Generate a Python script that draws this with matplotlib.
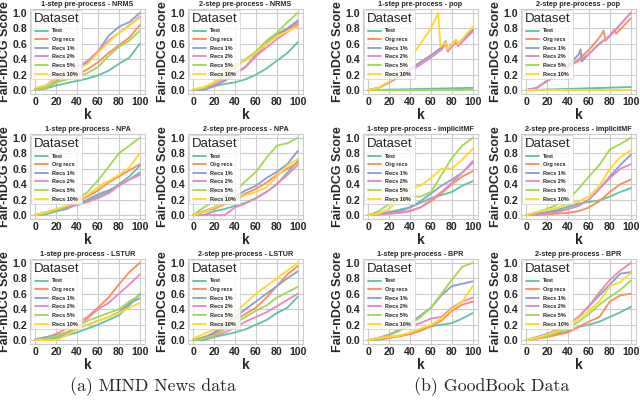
import matplotlib
matplotlib.use('Agg')
import matplotlib.pyplot as plt
import seaborn as sns

sns.set_style('whitegrid')
plt.rcParams['font.family'] = ['Liberation Sans', 'DejaVu Sans']

series = ['Test', 'Org recs', 'Recs 1%', 'Recs 2%', 'Recs 5%', 'Recs 10%']
colors = sns.color_palette('Set2', 6)
k_pts = [0, 10, 20, 30, 40, 50, 60, 70, 80, 90, 100]

# (a) MIND News data -- values read at k = 0, 10, ..., 100
nrms_1 = [[0, 0.02, 0.06, 0.09, 0.12, 0.15, 0.19, 0.25, 0.34, 0.42, 0.60],
          [0, 0.03, 0.10, 0.14, 0.20, 0.27, 0.36, 0.48, 0.58, 0.68, 0.84],
          [0.02, 0.05, 0.12, 0.20, 0.28, 0.36, 0.50, 0.70, 0.82, 0.88, 1.00],
          [0.02, 0.06, 0.16, 0.24, 0.30, 0.38, 0.50, 0.64, 0.74, 0.84, 0.95],
          [0, 0.03, 0.10, 0.14, 0.18, 0.22, 0.30, 0.44, 0.56, 0.64, 0.77],
          [0.03, 0.06, 0.14, 0.20, 0.27, 0.34, 0.48, 0.62, 0.74, 0.83, 0.94]]
nrms_2 = [[0, 0.0, 0.05, 0.08, 0.10, 0.14, 0.20, 0.28, 0.38, 0.48, 0.62],
          [0, 0.02, 0.06, 0.12, 0.20, 0.30, 0.44, 0.60, 0.70, 0.78, 0.88],
          [0, 0.01, 0.06, 0.12, 0.22, 0.30, 0.46, 0.62, 0.72, 0.80, 0.90],
          [0, 0.02, 0.07, 0.14, 0.22, 0.30, 0.44, 0.55, 0.66, 0.75, 0.85],
          [0, 0.03, 0.10, 0.18, 0.30, 0.40, 0.50, 0.64, 0.74, 0.88, 1.00],
          [0.01, 0.04, 0.10, 0.22, 0.33, 0.38, 0.48, 0.60, 0.70, 0.76, 0.82]]
npa_1 = [[0, 0.01, 0.05, 0.08, 0.14, 0.18, 0.24, 0.30, 0.40, 0.50, 0.64],
         [0, 0.03, 0.07, 0.11, 0.17, 0.24, 0.32, 0.42, 0.50, 0.58, 0.66],
         [0, 0.03, 0.07, 0.10, 0.14, 0.20, 0.27, 0.32, 0.38, 0.46, 0.55],
         [0, 0.03, 0.07, 0.10, 0.13, 0.17, 0.22, 0.28, 0.38, 0.46, 0.52],
         [0, 0.04, 0.07, 0.12, 0.20, 0.30, 0.45, 0.62, 0.80, 0.90, 1.00],
         [0, 0.03, 0.08, 0.12, 0.18, 0.26, 0.36, 0.44, 0.52, 0.62, 0.80]]
npa_2 = [[0, 0.0, 0.05, 0.08, 0.12, 0.16, 0.22, 0.30, 0.40, 0.55, 0.70],
         [0, 0.04, 0.08, 0.14, 0.20, 0.28, 0.34, 0.42, 0.52, 0.60, 0.68],
         [0, 0.05, 0.10, 0.16, 0.24, 0.32, 0.38, 0.48, 0.56, 0.66, 0.83],
         [0, 0.0, 0.0, 0.0, 0.10, 0.15, 0.22, 0.30, 0.40, 0.52, 0.65],
         [0, 0.10, 0.18, 0.24, 0.30, 0.44, 0.56, 0.74, 0.90, 0.93, 1.00],
         [0, 0.04, 0.10, 0.15, 0.20, 0.26, 0.30, 0.36, 0.50, 0.64, 0.73]]
lstur_1 = [[0, 0.0, 0.03, 0.06, 0.10, 0.15, 0.20, 0.26, 0.32, 0.45, 0.60],
           [0, 0.03, 0.08, 0.15, 0.22, 0.30, 0.42, 0.55, 0.72, 0.88, 1.00],
           [0.01, 0.04, 0.06, 0.10, 0.15, 0.20, 0.25, 0.30, 0.36, 0.48, 0.54],
           [0, 0.02, 0.05, 0.08, 0.15, 0.28, 0.40, 0.48, 0.60, 0.72, 0.85],
           [0, 0.02, 0.05, 0.10, 0.18, 0.25, 0.30, 0.35, 0.40, 0.50, 0.58],
           [0, 0.0, 0.0, 0.06, 0.14, 0.20, 0.25, 0.30, 0.35, 0.42, 0.48]]
lstur_2 = [[0, 0.0, 0.04, 0.07, 0.10, 0.14, 0.20, 0.26, 0.35, 0.42, 0.56],
           [0, 0.04, 0.08, 0.16, 0.26, 0.34, 0.42, 0.55, 0.70, 0.85, 0.96],
           [0, 0.03, 0.10, 0.20, 0.30, 0.40, 0.50, 0.60, 0.70, 0.80, 0.89],
           [0, 0.02, 0.05, 0.10, 0.16, 0.24, 0.30, 0.36, 0.44, 0.52, 0.60],
           [0, 0.02, 0.06, 0.14, 0.22, 0.30, 0.38, 0.45, 0.55, 0.62, 0.69],
           [0.02, 0.08, 0.14, 0.24, 0.36, 0.48, 0.60, 0.70, 0.80, 0.90, 1.00]]

# (b) GoodBook data -- pop panels have their own k points (jumps)
pop_1_k = [[0, 100],
           [0, 10, 20, 30, 40, 50, 60, 70, 74, 76, 84, 86, 100],
           [0, 10, 20, 30, 40, 50, 60, 70, 74, 76, 84, 86, 100],
           [0, 10, 20, 30, 40, 50, 60, 70, 74, 76, 84, 86, 100],
           [0, 100],
           [0, 10, 20, 30, 40, 50, 60, 67, 69, 74, 76, 84, 86, 100]]
pop_1 = [[0, 0.03],
         [0, 0.03, 0.10, 0.18, 0.27, 0.36, 0.45, 0.55, 0.63, 0.53, 0.65, 0.60, 0.78],
         [0, 0.03, 0.10, 0.18, 0.27, 0.36, 0.45, 0.55, 0.63, 0.53, 0.65, 0.60, 0.78],
         [0, 0.03, 0.10, 0.18, 0.25, 0.33, 0.42, 0.52, 0.60, 0.50, 0.62, 0.57, 0.76],
         [0, 0.005],
         [0, 0.03, 0.11, 0.22, 0.42, 0.60, 0.80, 1.00, 0.56, 0.62, 0.53, 0.65, 0.60, 0.82]]
pop_2_k = [[0, 100],
           [0, 10, 20, 30, 40, 50, 60, 70, 74, 76, 84, 86, 100],
           [0, 10, 20, 30, 40, 50, 52, 53, 60, 70, 80, 90, 100],
           [0, 10, 20, 30, 40, 50, 60, 70, 80, 90, 100],
           [0, 100],
           [0, 100]]
pop_2 = [[0, 0.04],
         [0, 0.03, 0.12, 0.20, 0.30, 0.40, 0.52, 0.68, 0.77, 0.64, 0.78, 0.73, 0.93],
         [0, 0.03, 0.12, 0.20, 0.32, 0.46, 0.53, 0.37, 0.47, 0.60, 0.70, 0.85, 1.00],
         [0, 0.03, 0.12, 0.20, 0.30, 0.38, 0.47, 0.60, 0.70, 0.85, 1.00],
         [0, 0.0],
         [0, 0.0]]
imf_1 = [[0, 0.02, 0.04, 0.07, 0.10, 0.16, 0.22, 0.26, 0.30, 0.38, 0.44],
         [0, 0.01, 0.02, 0.03, 0.05, 0.10, 0.18, 0.28, 0.40, 0.50, 0.57],
         [0, 0.01, 0.03, 0.05, 0.10, 0.18, 0.28, 0.38, 0.46, 0.55, 0.68],
         [0, 0.01, 0.02, 0.03, 0.06, 0.10, 0.20, 0.30, 0.42, 0.55, 0.70],
         [0, 0.05, 0.15, 0.20, 0.24, 0.24, 0.30, 0.52, 0.74, 0.90, 1.00],
         [0, 0.02, 0.08, 0.22, 0.35, 0.38, 0.48, 0.60, 0.60, 0.72, 0.86]]
imf_2 = [[0, 0.02, 0.04, 0.07, 0.11, 0.15, 0.17, 0.19, 0.24, 0.30, 0.35],
         [0, 0.0, 0.01, 0.02, 0.03, 0.05, 0.10, 0.18, 0.30, 0.40, 0.46],
         [0, 0.02, 0.03, 0.05, 0.08, 0.12, 0.20, 0.34, 0.50, 0.65, 0.78],
         [0, 0.01, 0.02, 0.04, 0.08, 0.13, 0.20, 0.34, 0.48, 0.60, 0.66],
         [0, 0.04, 0.08, 0.14, 0.20, 0.34, 0.50, 0.65, 0.85, 0.92, 1.00],
         [0, 0.04, 0.07, 0.10, 0.14, 0.18, 0.24, 0.38, 0.60, 0.75, 0.84]]
bpr_1 = [[0, 0.01, 0.03, 0.06, 0.08, 0.14, 0.18, 0.20, 0.22, 0.28, 0.35],
         [0, 0.01, 0.03, 0.05, 0.08, 0.12, 0.18, 0.25, 0.38, 0.46, 0.50],
         [0, 0.03, 0.07, 0.14, 0.22, 0.32, 0.42, 0.58, 0.70, 0.73, 0.76],
         [0, 0.03, 0.07, 0.13, 0.18, 0.22, 0.28, 0.30, 0.42, 0.50, 0.55],
         [0, 0.02, 0.06, 0.12, 0.20, 0.30, 0.42, 0.60, 0.78, 0.95, 1.00],
         [0, 0.03, 0.04, 0.06, 0.10, 0.15, 0.20, 0.28, 0.40, 0.50, 0.70]]
bpr_2 = [[0, 0.02, 0.05, 0.08, 0.12, 0.17, 0.20, 0.24, 0.30, 0.36, 0.43],
         [0, 0.02, 0.04, 0.07, 0.10, 0.17, 0.24, 0.30, 0.50, 0.58, 0.60],
         [0, 0.04, 0.08, 0.12, 0.20, 0.30, 0.44, 0.58, 0.72, 0.86, 0.88],
         [0, 0.03, 0.08, 0.14, 0.20, 0.30, 0.44, 0.62, 0.78, 0.90, 1.00],
         [0, 0.03, 0.05, 0.10, 0.16, 0.24, 0.34, 0.46, 0.56, 0.65, 0.77],
         [0, 0.03, 0.07, 0.12, 0.18, 0.28, 0.38, 0.50, 0.70, 0.75, 0.87]]

panels = [
    ('1-step pre-process - NRMS', None, nrms_1),
    ('2-step pre-process - NRMS', None, nrms_2),
    ('1-step pre-process - pop', pop_1_k, pop_1),
    ('2-step pre-process - pop', pop_2_k, pop_2),
    ('1-step pre-process - NPA', None, npa_1),
    ('2-step pre-process - NPA', None, npa_2),
    ('1-step pre-process - implicitMF', None, imf_1),
    ('2-step pre-process - implicitMF', None, imf_2),
    ('1-step pre-process - LSTUR', None, lstur_1),
    ('2-step pre-process - LSTUR', None, lstur_2),
    ('1-step pre-process - BPR', None, bpr_1),
    ('2-step pre-process - BPR', None, bpr_2),
]

W, H = 640, 403
col_left = [30, 188, 363, 521]
row_top = [9, 134, 259]
aw, ah = 115, 85

fig = plt.figure(figsize=(6.4, 4.03), dpi=100)

for i, (title, ks, vals) in enumerate(panels):
    r, c = divmod(i, 4)
    ax = fig.add_axes([col_left[c] / W, 1 - (row_top[r] + ah) / H, aw / W, ah / H])
    for j, name in enumerate(series):
        x = k_pts if ks is None else ks[j]
        ax.plot(x, vals[j], color=colors[j], lw=1.35, label=name)
    ax.set_xlim(-5, 105)
    ax.set_ylim(-0.05, 1.05)
    ax.set_xticks([0, 20, 40, 60, 80, 100])
    ax.set_yticks([0, 0.2, 0.4, 0.6, 0.8, 1.0])
    ax.set_yticklabels(['0.0', '0.2', '0.4', '0.6', '0.8', '1.0'])
    ax.tick_params(length=0, pad=2, labelsize=7.6)
    for lab in ax.get_xticklabels() + ax.get_yticklabels():
        lab.set_fontweight('bold')
    ax.set_title(title, fontsize=5.2, fontweight='bold', pad=2)
    ax.set_xlabel('k', fontsize=10, fontweight='bold', labelpad=1)
    ax.set_ylabel('Fair-nDCG Score', fontsize=9, fontweight='bold', labelpad=1)
    leg = ax.legend(loc='upper left', title='Dataset',
                    prop={'size': 4, 'weight': 'bold'}, title_fontsize=9.5,
                    handlelength=2.3, handletextpad=0.7, labelspacing=0.65,
                    borderaxespad=0.25, borderpad=0.45)
    leg.get_frame().set_linewidth(0.6)

fig.text(153 / W, 1 - 387 / H, '(a) MIND News data', family='cmr10',
         fontsize=12.8, ha='center', va='center')
fig.text(492 / W, 1 - 387 / H, '(b) GoodBook Data', family='cmr10',
         fontsize=12.8, ha='center', va='center')

fig.savefig('out.png', dpi=100)
